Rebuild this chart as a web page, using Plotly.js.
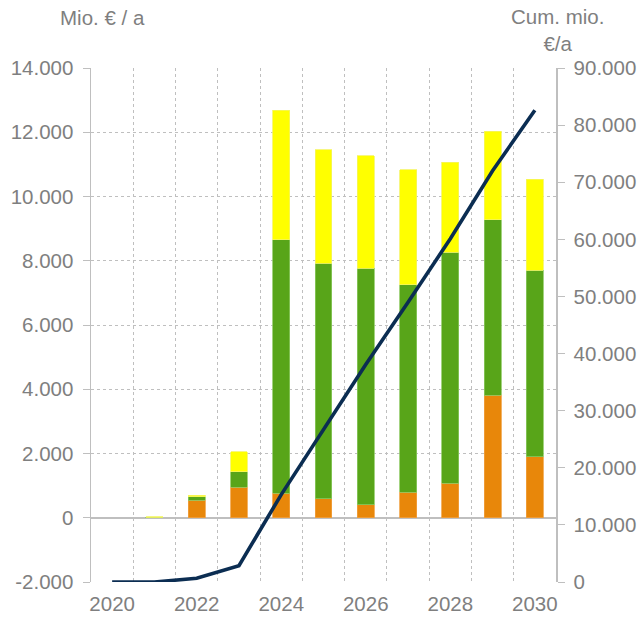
<!DOCTYPE html>
<html>
<head>
<meta charset="utf-8">
<script src="https://cdn.plot.ly/plotly-3.0.1.min.js"></script>
<style>html,body{margin:0;padding:0;background:#fff}#chart{width:641px;height:620px}</style>
</head>
<body>
<div id="chart"></div>
<script>
const years = [2020, 2021, 2022, 2023, 2024, 2025, 2026, 2027, 2028, 2029, 2030];
const orangeVals = [null, null, 540, 955, 770, 590, 405, 790, 1080, 3810, 1900];
const greenVals  = [null, 20, 110, 470, 7880, 7330, 7355, 6470, 7185, 5470, 5805];
const yellowVals = [null, 10, 55, 630, 4040, 3540, 3510, 3580, 2795, 2755, 2835];
const cumulative = [0, 0, 650, 2860, 15300, 26800, 38100, 49000, 60100, 72000, 82600];

const xTickVals = [2020, 2022, 2024, 2026, 2028, 2030];
const xTickText = ["2020", "2022", "2024", "2026", "2028", "2030"];
const yLeftVals = [-2000, 0, 2000, 4000, 6000, 8000, 10000, 12000, 14000];
const yLeftText = ["-2.000", "0", "2.000", "4.000", "6.000", "8.000", "10.000", "12.000", "14.000"];
const yRightVals = [0, 10000, 20000, 30000, 40000, 50000, 60000, 70000, 80000, 90000];
const yRightText = ["0", "10.000", "20.000", "30.000", "40.000", "50.000", "60.000", "70.000", "80.000", "90.000"];

const leftTitle = "Mio. € / a";
const rightTitle = "Cum. mio.<br>€/a";

const gray = "#7f7f7f";
const lineGray = "#bfbfbf";
const fontFam = "'Liberation Sans', Arial, sans-serif";
const fs = 20.5;

const barCommon = {type: "bar", x: years, width: 0.4, yaxis: "y", hoverinfo: "skip"};
const traces = [
  Object.assign({}, barCommon, {y: orangeVals, name: "orange", marker: {color: "#E8870A", line: {color: "#F0A040", width: 0.8}}}),
  Object.assign({}, barCommon, {y: greenVals, name: "green", marker: {color: "#58A519", line: {color: "#8CC860", width: 0.8}}}),
  Object.assign({}, barCommon, {y: yellowVals, name: "yellow", marker: {color: "#FFFF00", line: {color: "#F5F560", width: 0.8}}}),
  {type: "scatter", mode: "lines", x: years, y: cumulative, yaxis: "y2", name: "cum",
   line: {color: "#0B2D52", width: 3.6}, hoverinfo: "skip"}
];

const layout = {
  width: 641, height: 620,
  margin: {l: 91, r: 85, t: 68, b: 38},
  paper_bgcolor: "#fff", plot_bgcolor: "#fff",
  barmode: "stack",
  showlegend: false,
  font: {family: fontFam, size: fs, color: gray},
  xaxis: {
    range: [2019.5, 2030.5],
    tickmode: "array", tickvals: xTickVals, ticktext: xTickText,
    showgrid: false, zeroline: false, showline: false, ticks: "",
    ticklabelstandoff: 7,
    tickfont: {size: fs, color: gray},
    minor: {tick0: 2019.5, dtick: 1, showgrid: true, gridcolor: lineGray, griddash: "dot", gridwidth: 1, ticks: ""}
  },
  yaxis: {
    range: [-2000, 14000],
    tickmode: "array", tickvals: yLeftVals, ticktext: yLeftText,
    showgrid: true, gridcolor: lineGray, griddash: "dot", gridwidth: 1,
    zeroline: true, zerolinecolor: lineGray, zerolinewidth: 1.5,
    showline: true, linecolor: lineGray, linewidth: 1.5,
    ticks: "outside", ticklen: 7, tickcolor: lineGray, tickwidth: 1,
    ticklabelstandoff: 5,
    tickfont: {size: fs, color: gray}
  },
  yaxis2: {
    range: [0, 90000], overlaying: "y", side: "right",
    tickmode: "array", tickvals: yRightVals, ticktext: yRightText,
    showgrid: false, zeroline: false,
    showline: true, linecolor: lineGray, linewidth: 1.5,
    ticks: "outside", ticklen: 7, tickcolor: lineGray, tickwidth: 1,
    ticklabelstandoff: 5,
    tickfont: {size: fs, color: gray}
  },
  annotations: [
    {text: leftTitle, xref: "paper", yref: "paper", x: -0.072, y: 1.0, yshift: 64, xanchor: "left", yanchor: "top",
     showarrow: false, font: {size: fs, color: gray}},
    {text: rightTitle, xref: "paper", yref: "paper", x: 1.0, y: 1.0, xshift: 1, yshift: 65, xanchor: "center", yanchor: "top",
     align: "center", showarrow: false, font: {size: fs, color: gray}}
  ]
};

Plotly.newPlot("chart", traces, layout, {staticPlot: true, displayModeBar: false});
</script>
</body>
</html>
